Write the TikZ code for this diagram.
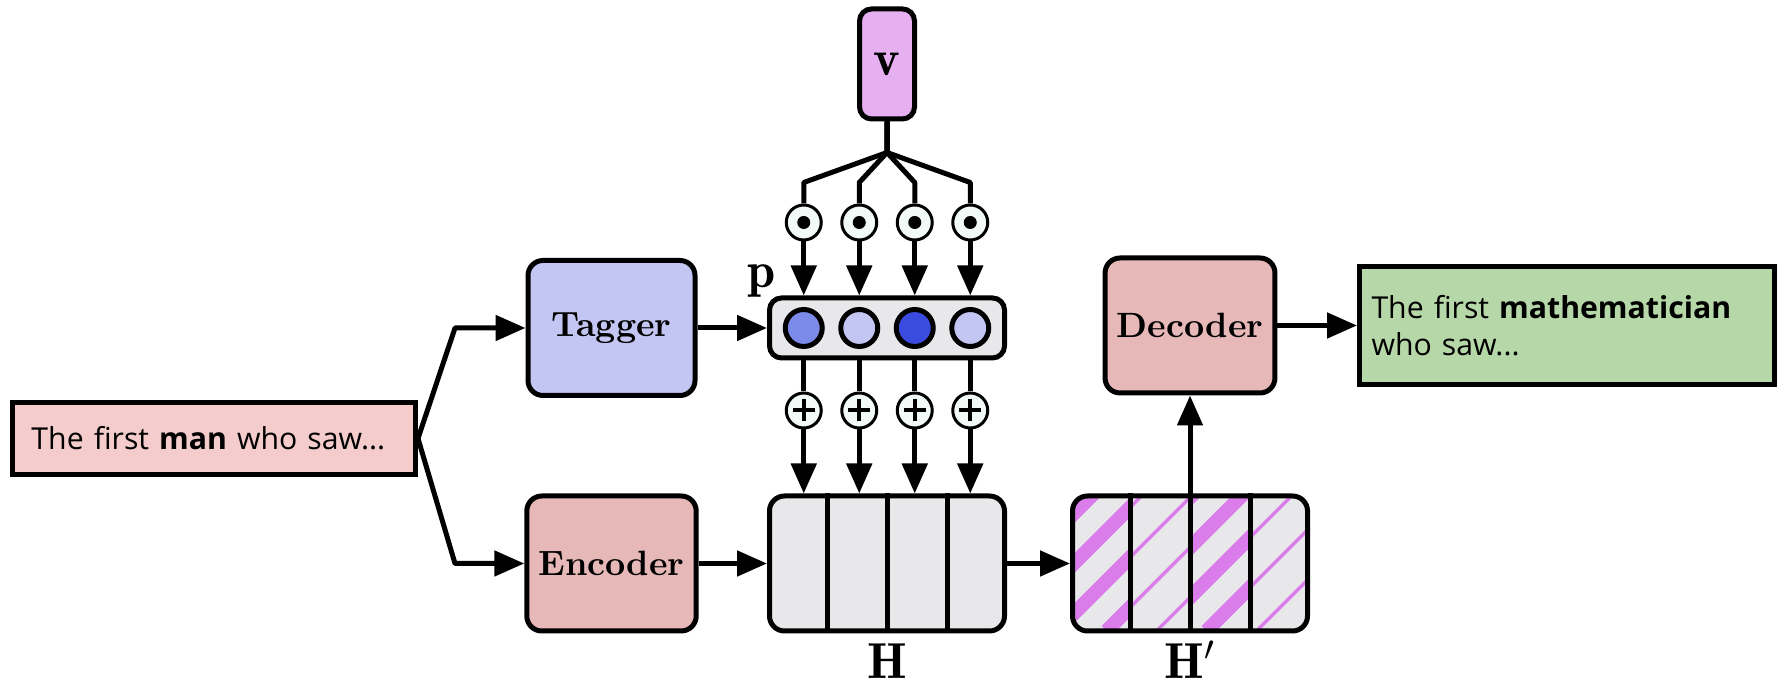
\documentclass[tikz,border=0pt]{standalone}
\usepackage{fontspec}
\newfontfamily\sentencefont{Open Sans}
\usetikzlibrary{positioning,arrows.meta}

\definecolor{sourcepink}{HTML}{F4CCCC}
\definecolor{targetgreen}{HTML}{B6D7A8}
\definecolor{taggerblue}{HTML}{C3C6F2}
\definecolor{coderred}{HTML}{E6B8B8}
\definecolor{vecviolet}{HTML}{E6B0F0}
\definecolor{hiddengray}{HTML}{E8E8EA}
\definecolor{opmint}{HTML}{F2FAF7}
\definecolor{stripepink}{HTML}{DA7CEA}
\definecolor{plight}{HTML}{C3C6F2}
\definecolor{pmid}{HTML}{7C8AEA}
\definecolor{pdark}{HTML}{3A4CE0}

\begin{document}
\begin{tikzpicture}[node distance=2.5cm, auto]
    \tikzstyle{sentence} = [rectangle, draw, line width=0.5mm, align=left, font=\sentencefont\fontsize{8.6}{10.5}\selectfont]
    \tikzstyle{block} = [rectangle, rounded corners=1.5mm, draw, line width=0.5mm, minimum width=1.67cm, minimum height=1.35cm, font=\bfseries]
    \tikzstyle{hidden} = [rectangle, rounded corners=1.5mm, draw, line width=0.5mm, fill=hiddengray, minimum width=2.35cm, minimum height=1.35cm]
    \tikzstyle{unit} = [circle, draw, line width=0.5mm, minimum size=3.7mm, inner sep=0pt]
    \tikzstyle{mulop} = [circle, draw, line width=0.3mm, fill=opmint, minimum size=3.5mm, inner sep=0pt,
        path picture={\fill [black] (path picture bounding box.center) circle (0.65mm);}]
    \tikzstyle{addop} = [circle, draw, line width=0.3mm, fill=opmint, minimum size=3.5mm, inner sep=0pt,
        path picture={\draw [black, line width=0.4mm] ([xshift=-1.1mm]path picture bounding box.center) -- ([xshift=1.1mm]path picture bounding box.center)
            ([yshift=-1.1mm]path picture bounding box.center) -- ([yshift=1.1mm]path picture bounding box.center);}]
    \tikzstyle{mixed} = [path picture={
        \foreach \i/\w in {0/1.4mm, 1/0.35mm, 2/1.4mm, 3/0.35mm} {
            \begin{scope}
                \clip ([xshift=\i*0.6cm-0.025cm]path picture bounding box.south west) rectangle ++(0.6cm,1.5cm);
                \foreach \m in {-4,...,4}
                    \draw [stripepink, line width=\w] ([xshift=0.34cm+\m*0.5cm]path picture bounding box.south west) -- ++(2cm,2cm);
            \end{scope}
        }}]
    \tikzstyle{varname} = [font=\Large, inner sep=0pt, text height=3.5mm, text depth=0mm]
    \tikzstyle{wire} = [line width=0.5mm, line join=round]
    \tikzstyle{arrow} = [wire, -{Triangle[length=3mm, width=2.5mm]}]

    \useasboundingbox (-2.14,-2.465) rectangle (15.70,4.385);

    % Source sentence
    \node [sentence, fill=sourcepink, text width=3.65cm, inner xsep=1.9mm, minimum height=0.72cm] (input) {The first \textbf{man} who saw...};

    % Tagger and encoder
    \node [block, fill=taggerblue, right of=input, node distance=3.975cm, yshift=1.105cm] (tagger) {Tagger};
    \node [block, fill=coderred, below of=tagger, node distance=2.355cm] (encoder) {Encoder};

    % Hidden states
    \node [hidden, right of=encoder, node distance=2.755cm] (H) {};
    \node [hidden, mixed, right of=H, node distance=3.03cm] (Hp) {};
    \node [varname, below of=H, node distance=0.98cm] (hlabel) {$\mathbf{H}$};
    \node [varname, below of=Hp, node distance=0.98cm] (hplabel) {$\mathbf{H}'$};

    % Tags p and vector v
    \node [hidden, rounded corners=1.2mm, minimum height=0.6cm, above of=H, node distance=2.355cm] (pbox) {};
    \node [left of=pbox, node distance=1.25cm, yshift=0.47cm, font=\Large] (plabel) {$\mathbf{p}$};
    \node [block, rounded corners=1.2mm, fill=vecviolet, minimum width=0.55cm, minimum height=1.1cm, above of=pbox, node distance=2.64cm, font=\Large] (v) {$\mathbf{v}$};

    % Decoder and target sentence
    \node [block, fill=coderred, above of=Hp, node distance=2.38cm] (decoder) {Decoder};
    \node [sentence, fill=targetgreen, right of=decoder, node distance=3.77cm, text width=3.91cm, inner xsep=1.2mm, minimum height=1.18cm] (output) {The first \textbf{mathematician}\\who saw...};

    \foreach \i/\col/\dx in {1/pmid/-0.8325, 2/plight/-0.2775, 3/pdark/0.2775, 4/plight/0.8325} {
        \node [unit, fill=\col, xshift=\dx cm] (cell\i) at (pbox) {};
        \node [mulop, above of=cell\i, node distance=1.055cm] (mul\i) {};
        \node [addop, below of=cell\i, node distance=0.825cm] (add\i) {};
    }

    % Cell borders
    \foreach \dx in {-0.6, 0, 0.6} {
        \draw [wire] ([xshift=\dx cm]H.north) -- ([xshift=\dx cm]H.south);
        \draw [wire] ([xshift=\dx cm]Hp.north) -- ([xshift=\dx cm]Hp.south);
    }

    % Connections
    \coordinate [below of=v, node distance=0.885cm] (fork);
    \coordinate [left of=tagger, node distance=1.565cm] (upkink);
    \coordinate [left of=encoder, node distance=1.565cm] (downkink);

    \draw [arrow] (input.east) -- (upkink) -- (tagger);
    \draw [arrow] (input.east) -- (downkink) -- (encoder);
    \draw [arrow] (tagger) -- (pbox);
    \draw [arrow] (encoder) -- (H);
    \draw [arrow] (H) -- (Hp);
    \draw [arrow] (Hp) -- (decoder);
    \draw [arrow] (decoder) -- (output);

    \foreach \i in {1,...,4} {
        \draw [wire] (v) -- (fork) -- ([yshift=0.4cm]mul\i.center) -- (mul\i);
        \draw [arrow] (mul\i) -- (mul\i |- pbox.north);
        \draw [wire] (cell\i |- pbox.south) -- (add\i);
        \draw [arrow] (add\i) -- (add\i |- H.north);
    }
\end{tikzpicture}
\end{document}
